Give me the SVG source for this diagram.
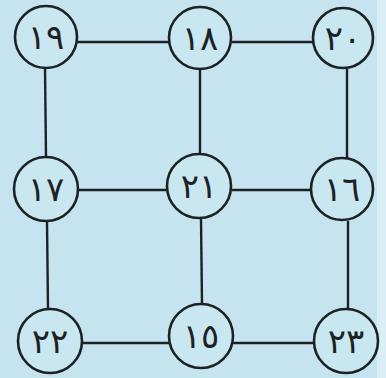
<svg xmlns="http://www.w3.org/2000/svg" width="386" height="378" viewBox="0 0 386 378">
<style>
.n circle{fill:#c9e7f1;stroke:#1c2224;stroke-width:2.6}
.n text{font-family:"DejaVu Sans",sans-serif;font-size:34px;fill:#1c2224;text-anchor:middle;dominant-baseline:central}
#edges line{stroke:#1c2224;stroke-width:2.4}
</style>
<rect width="386" height="378" fill="#c6e4ef"/>
<rect x="377" width="9" height="378" fill="#d9eef5"/>
<g id="edges">
<line x1="77" y1="42" x2="169" y2="42"/>
<line x1="232" y1="42" x2="313" y2="42"/>
<line x1="78" y1="190" x2="166" y2="190"/>
<line x1="232" y1="190" x2="312" y2="190"/>
<line x1="82" y1="343" x2="169" y2="343"/>
<line x1="233" y1="343" x2="313" y2="343"/>
<line x1="45" y1="68" x2="46" y2="157"/>
<line x1="47" y1="221" x2="48" y2="309"/>
<line x1="200" y1="69" x2="200" y2="154"/>
<line x1="201" y1="219" x2="202" y2="304"/>
<line x1="347" y1="69" x2="347" y2="158"/>
<line x1="348" y1="221" x2="348" y2="309"/>
</g>
<g id="n19" class="n"><circle cx="46" cy="37" r="31"/><text x="46" y="37">١٩</text></g>
<g id="n18" class="n"><circle cx="200" cy="38" r="31"/><text x="200" y="38">١٨</text></g>
<g id="n20" class="n"><circle cx="343" cy="38" r="30"/><text x="343" y="38">٢٠</text></g>
<g id="n17" class="n"><circle cx="46" cy="189" r="32"/><text x="46" y="189">١٧</text></g>
<g id="n21" class="n"><circle cx="199" cy="186" r="32"/><text x="199" y="186">٢١</text></g>
<g id="n16" class="n"><circle cx="342" cy="189" r="31"/><text x="342" y="189">١٦</text></g>
<g id="n22" class="n"><circle cx="50" cy="341" r="32"/><text x="50" y="341">٢٢</text></g>
<g id="n15" class="n"><circle cx="201" cy="336" r="32"/><text x="201" y="336">١٥</text></g>
<g id="n23" class="n"><circle cx="346" cy="341" r="32"/><text x="346" y="341">٢٣</text></g>
</svg>
